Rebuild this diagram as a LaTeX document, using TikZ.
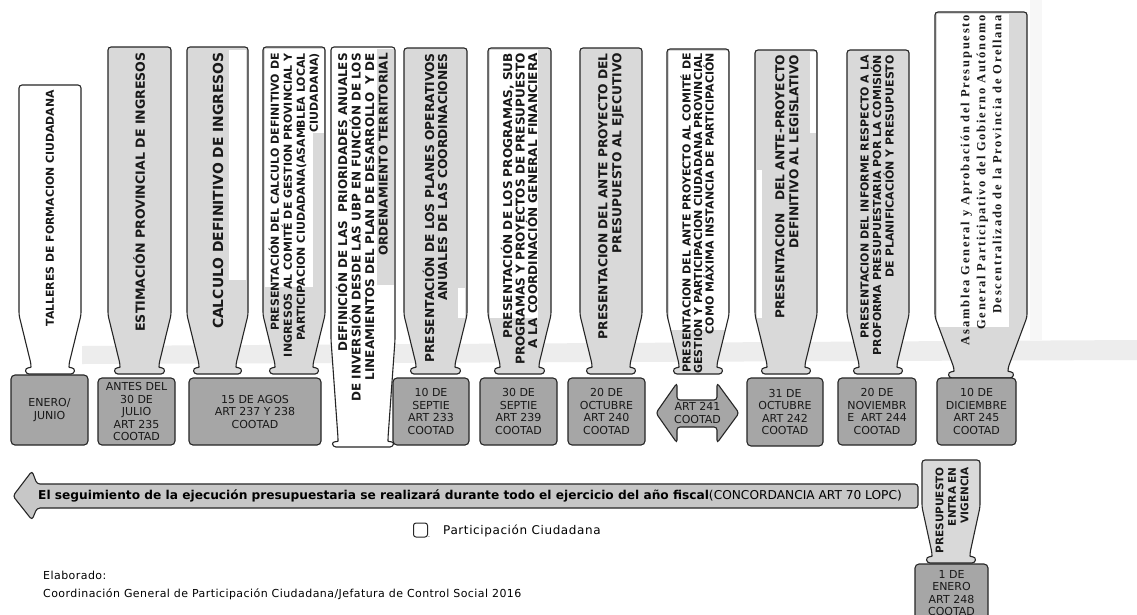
\documentclass[tikz,border=0pt]{standalone}
\usepackage{fontspec}
\newfontfamily\cfont{DejaVu Sans}
\newfontfamily\afont{Liberation Serif}
\newcommand\cb[2]{\cfont\bfseries\fontsize{#1}{#2}\selectfont}
\newcommand\cn[2]{\cfont\fontsize{#1}{#2}\selectfont}
\definecolor{calgray}{gray}{0.85}
\definecolor{dategray}{gray}{0.65}
\definecolor{arrgray}{gray}{0.78}
\definecolor{inkline}{gray}{0.15}

% left, right, top, start of taper, neck, foot, inset
\newcommand\bottle[7]{(#1,#4) -- (#1,#3) -- (#2,#3) -- (#2,#4) -- ({#2-#7},#5)
  .. controls ({#2-#7},{#5+4}) and ({#2-#7+6},{#5+3}) .. ({#2-#7+5},#6)
  -- ({#1+#7-5},#6) .. controls ({#1+#7-6},{#5+3}) and ({#1+#7},{#5+4}) .. ({#1+#7},#5) -- cycle}

\tikzset{
  bottleline/.style={draw=inkline, line width=1.1pt, rounded corners=3pt},
  vtext/.style={rotate=90, anchor=east, inner sep=0pt, align=right, text=black!90},
  datebox/.style={draw=inkline, fill=dategray, line width=1.1pt, rounded corners=4pt,
    inner sep=0pt, align=center, text=black!90, font=\cn{11}{12.5}},
  arrowshape/.style={draw=inkline, line width=1.1pt, rounded corners=3pt}
}

\begin{document}
\begin{tikzpicture}[x=1pt,y=-1pt]
  \clip (0,0) rectangle (1137,614);
  \fill[white] (0,0) rectangle (1137,614);
  \fill[black!7] (82,346) -- (1137,340) -- (1137,360) -- (82,364) -- cycle;
  \fill[black!3] (1030,0) rectangle (1042,340);

  \def\bottles{19/81/85/white, 108/171/47/calgray, 187/248/47/calgray, 263/325/47/calgray,
    404/467/48/calgray, 488/551/48/calgray, 580/642/48/calgray, 667/729/49/calgray,
    755/817/50/calgray, 847/909/50/calgray}

  \foreach \xl/\xr/\yt/\col in \bottles {
    \fill[\col] \bottle{\xl}{\xr}{\yt}{315}{364}{374}{12};
  }
  \fill[white] \bottle{331}{395}{47}{340}{438}{447}{7};
  \fill[calgray] \bottle{935}{1027}{12}{317}{368}{378}{19};
  \fill[calgray] \bottle{922}{980}{460}{507}{553}{563}{10};

  \fill[white] (229,50) rectangle (246,280);
  \fill[white] (264.5,49) rectangle (323.5,133);
  \fill[white] (264.5,49) rectangle (313,287);
  \fill[calgray] (377,49) rectangle (393.5,285);
  \fill[white] (458,288) rectangle (465,318);
  \fill[white] (489.5,49.5) rectangle (538,318);
  \fill[white] (668.5,50.5) rectangle (727.5,330);
  \fill[white] (756.5,170) rectangle (762,318);
  \fill[white] (810,51.5) rectangle (815.5,133);
  \fill[white] (936.5,13.5) rectangle (1009,327);

  \foreach \xl/\xr/\yt/\col in \bottles {
    \draw[bottleline] \bottle{\xl}{\xr}{\yt}{315}{364}{374}{12};
  }
  \draw[bottleline] \bottle{331}{395}{47}{340}{438}{447}{7};
  \draw[bottleline] \bottle{935}{1027}{12}{317}{368}{378}{19};
  \draw[bottleline] \bottle{922}{980}{460}{507}{553}{563}{10};

  \node[vtext, font=\cb{10.9}{13}] (talleres) at (50,90) {TALLERES DE FORMACION CIUDADANA};
  \node[vtext, font=\cb{12.6}{14}] (estim) at (139,52) {ESTIMACIÓN PROVINCIAL DE INGRESOS};
  \node[vtext, font=\cb{13.9}{15}] (calculo) at (218,52) {CALCULO DEFINITIVO DE INGRESOS};
  \node[vtext, font=\cb{11}{13}] (prescalc) at (294,53)
    {PRESENTACIÓN DEL CALCULO DEFINITIVO DE\\INGRESOS AL COMITÉ DE GESTION PROVINCIAL Y\\PARTICIPACION CIUDADANA(ASAMBLEA LOCAL\\CIUDADANA)};
  \node[vtext, font=\cb{12}{13.5}] (definic) at (362,53)
    {DEFINICIÓN DE LAS\ \ PRIORIDADES ANUALES\\DE INVERSIÓN DESDE LAS UBP EN FUNCIÓN DE LOS\\LINEAMIENTOS DEL PLAN DE DESARROLLO\ \ Y DE\\ORDENAMIENTO TERRITORIAL};
  \node[vtext, font=\cb{12.3}{13}] (planes) at (435,53)
    {PRESENTACIÓN DE LOS PLANES OPERATIVOS\\ANUALES DE LAS COORDINACIONES};
  \node[vtext, font=\cb{12.1}{12.5}] (programas) at (519,53)
    {PRESENTACIÓN DE LOS PROGRAMAS, SUB\\PROGRAMAS Y PROYECTOS DE PRESUPUESTO\\A LA COORDINACIÓN GENERAL FINANCIERA};
  \node[vtext, font=\cb{12.3}{14}] (ejecutivo) at (611,53)
    {PRESENTACION DEL ANTE PROYECTO DEL\\PRESUPUESTO AL EJECUTIVO};
  \node[vtext, font=\cb{11}{11.5}] (comite) at (697,53)
    {PRESENTACION DEL ANTE PROYECTO AL COMITÉ DE\\GESTION Y PARTICIPACION CIUDADANA PROVINCIAL\\COMO MÁXIMA INSTANCIA DE PARTICIPACIÓN};
  \node[vtext, font=\cb{12.25}{14}] (legislat) at (787,55)
    {PRESENTACION\ \ \ DEL ANTE-PROYECTO\\DEFINITIVO AL LEGISLATIVO};
  \node[vtext, font=\cb{11}{12.5}] (informe) at (877,55)
    {PRESENTACION DEL INFORME RESPECTO A LA\\PROFORMA PRESUPUESTARIA POR LA COMISIÓN\\DE PLANIFICACIÓN Y PRESUPUESTO};
  \node[vtext, font={\afont\bfseries\addfontfeature{LetterSpace=14}\fontsize{12.5}{16}\selectfont}] (asamblea) at (981,15)
    {Asamblea General y Aprobación del Presupuesto\\General Participativo del Gobierno Autónomo\\Descentralizado de la Provincia de Orellana};
  \node[vtext, font=\cb{10.5}{12.5}] (vigencia) at (952,467) {PRESUPUESTO\\ENTRA EN\\VIGENCIA};

  \node[datebox, minimum width=77, minimum height=70] (enero) at (49.5,410) {ENERO/\\JUNIO};
  \node[datebox, minimum width=77, minimum height=67] (julio) at (136.5,411.5) {ANTES DEL\\30 DE\\JULIO\\ART 235\\COOTAD};
  \node[datebox, minimum width=132, minimum height=67] (agosto) at (255,411.5) {15 DE AGOS\\ART 237 Y 238\\COOTAD};
  \node[datebox, minimum width=76, minimum height=67] (sept10) at (431,411.5) {10 DE\\SEPTIE\\ART 233\\COOTAD};
  \node[datebox, minimum width=77, minimum height=67] (sept30) at (518.5,411.5) {30 DE\\SEPTIE\\ART 239\\COOTAD};
  \node[datebox, minimum width=77, minimum height=67] (oct20) at (606.5,411.5) {20 DE\\OCTUBRE\\ART 240\\COOTAD};
  \node[datebox, minimum width=76, minimum height=68] (oct31) at (785,412) {31 DE\\OCTUBRE\\ART 242\\COOTAD};
  \node[datebox, minimum width=78, minimum height=67] (nov) at (877,411.5) {20 DE\\NOVIEMBR\\E\ \ ART 244\\COOTAD};
  \node[datebox, minimum width=79, minimum height=67] (dic) at (976.5,411.5) {10 DE\\DICIEMBRE\\ART 245\\COOTAD};
  \node[datebox, minimum width=73, minimum height=58] (ene1) at (951.5,593) {1 DE\\ENERO\\ART 248\\COOTAD};

  \draw[arrowshape, fill=dategray] (656,413) -- (677,383) -- (677,400) -- (717,400) -- (717,383)
    -- (739,413) -- (717,443) -- (717,427) -- (677,427) -- (677,443) -- cycle;
  \node[align=center, inner sep=0pt, text=black!90, font=\cn{11}{13}] (art241) at (697.5,413) {ART 241\\COOTAD};

  \draw[arrowshape, fill=arrgray] (918,484) -- (37,484) -- (32,471) -- (13,496) -- (32,520)
    -- (37,508) -- (918,508) -- cycle;
  \node[anchor=west, inner sep=0pt, font=\cn{12.2}{14}] (seguim) at (38,496)
    {\textbf{El seguimiento de la ejecución presupuestaria se realizará durante todo el ejercicio del año fiscal}(CONCORDANCIA ART 70 LOPC)};

  \node[draw=inkline, line width=1pt, rounded corners=2.5pt, minimum size=14, inner sep=0pt] (legbox) at (420.5,530) {};
  \node[anchor=south west, inner sep=0pt, font=\cn{6}{7}] (legdot) at (legbox.south east) {.};
  \node[anchor=west, inner sep=0pt, font={\cfont\addfontfeature{LetterSpace=5}\fontsize{12}{14}\selectfont}] (legtxt) at (443,531) {Participación Ciudadana};

  \node[anchor=west, inner sep=0pt, font={\cfont\addfontfeature{LetterSpace=4}\fontsize{11}{13}\selectfont}] (elab) at (43,575) {Elaborado:};
  \node[anchor=west, inner sep=0pt, font={\cfont\addfontfeature{LetterSpace=4}\fontsize{11}{13}\selectfont}] (coord) at (43,594)
    {Coordinación General de Participación Ciudadana/Jefatura de Control Social 2016};
\end{tikzpicture}
\end{document}
